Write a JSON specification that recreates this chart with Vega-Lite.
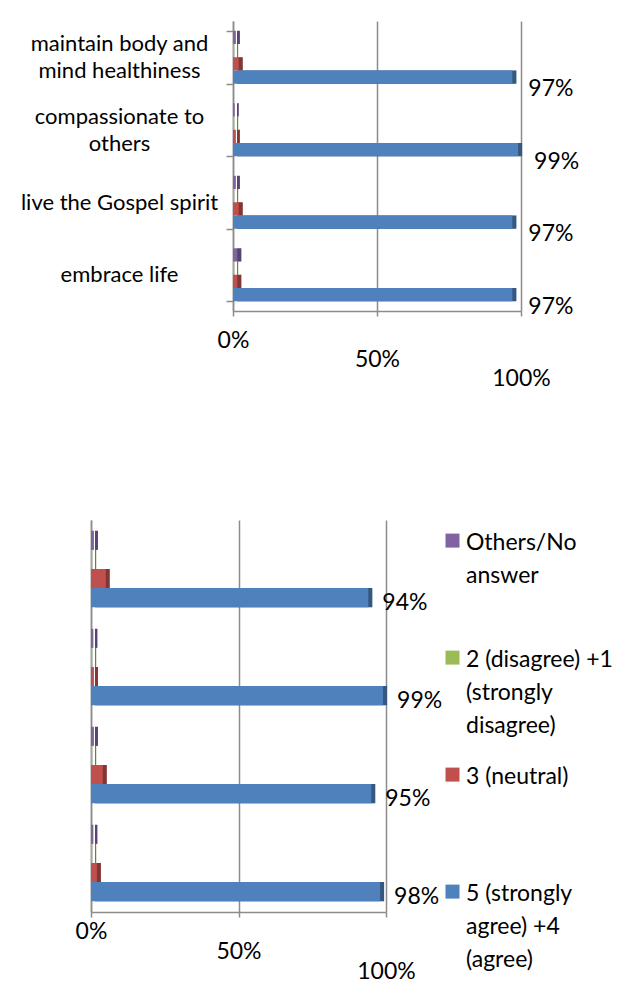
{
  "$schema": "https://vega.github.io/schema/vega-lite/v6.json",
  "padding": {"left": 20, "top": 10, "right": 0, "bottom": 0},
  "datasets": {
    "wave1": [
      {"item": "maintain body and mind healthiness", "series": "Others/No answer", "share": 0.01},
      {"item": "maintain body and mind healthiness", "series": "2 (disagree) +1 (strongly disagree)", "share": 0.004},
      {"item": "maintain body and mind healthiness", "series": "3 (neutral)", "share": 0.02},
      {"item": "maintain body and mind healthiness", "series": "5 (strongly agree) +4 (agree)", "share": 0.97},
      {"item": "compassionate to others", "series": "Others/No answer", "share": 0.006},
      {"item": "compassionate to others", "series": "2 (disagree) +1 (strongly disagree)", "share": 0.004},
      {"item": "compassionate to others", "series": "3 (neutral)", "share": 0.01},
      {"item": "compassionate to others", "series": "5 (strongly agree) +4 (agree)", "share": 0.99},
      {"item": "live the Gospel spirit", "series": "Others/No answer", "share": 0.01},
      {"item": "live the Gospel spirit", "series": "2 (disagree) +1 (strongly disagree)", "share": 0.004},
      {"item": "live the Gospel spirit", "series": "3 (neutral)", "share": 0.02},
      {"item": "live the Gospel spirit", "series": "5 (strongly agree) +4 (agree)", "share": 0.97},
      {"item": "embrace life", "series": "Others/No answer", "share": 0.015},
      {"item": "embrace life", "series": "2 (disagree) +1 (strongly disagree)", "share": 0.004},
      {"item": "embrace life", "series": "3 (neutral)", "share": 0.015},
      {"item": "embrace life", "series": "5 (strongly agree) +4 (agree)", "share": 0.97}
    ],
    "wave2": [
      {"item": "maintain body and mind healthiness", "series": "Others/No answer", "share": 0.01},
      {"item": "maintain body and mind healthiness", "series": "2 (disagree) +1 (strongly disagree)", "share": 0.004},
      {"item": "maintain body and mind healthiness", "series": "3 (neutral)", "share": 0.05},
      {"item": "maintain body and mind healthiness", "series": "5 (strongly agree) +4 (agree)", "share": 0.94},
      {"item": "compassionate to others", "series": "Others/No answer", "share": 0.008},
      {"item": "compassionate to others", "series": "2 (disagree) +1 (strongly disagree)", "share": 0.004},
      {"item": "compassionate to others", "series": "3 (neutral)", "share": 0.01},
      {"item": "compassionate to others", "series": "5 (strongly agree) +4 (agree)", "share": 0.99},
      {"item": "live the Gospel spirit", "series": "Others/No answer", "share": 0.01},
      {"item": "live the Gospel spirit", "series": "2 (disagree) +1 (strongly disagree)", "share": 0.004},
      {"item": "live the Gospel spirit", "series": "3 (neutral)", "share": 0.04},
      {"item": "live the Gospel spirit", "series": "5 (strongly agree) +4 (agree)", "share": 0.95},
      {"item": "embrace life", "series": "Others/No answer", "share": 0.008},
      {"item": "embrace life", "series": "2 (disagree) +1 (strongly disagree)", "share": 0.004},
      {"item": "embrace life", "series": "3 (neutral)", "share": 0.02},
      {"item": "embrace life", "series": "5 (strongly agree) +4 (agree)", "share": 0.98}
    ]
  },
  "spacing": 130,
  "resolve": {
    "scale": {"color": "independent", "yOffset": "independent"},
    "legend": {"color": "independent"}
  },
  "vconcat": [
    {
      "width": 288,
      "height": 290,
      "data": {"name": "wave1"},
      "encoding": {
        "y": {
          "field": "item", "type": "nominal",
          "sort": ["maintain body and mind healthiness", "compassionate to others", "live the Gospel spirit", "embrace life"],
          "scale": {"paddingInner": 0.27, "paddingOuter": 0.135},
          "axis": {
            "title": null,
            "tickBand": "extent",
            "tickSize": 7,
            "labelAlign": "center",
            "labelPadding": 107,
            "labelLimit": 300,
            "labelFontSize": 22,
            "labelLineHeight": 27,
            "labelOffset": {"expr": "datum.value == 'maintain body and mind healthiness' || datum.value == 'compassionate to others' ? -13.5 : 0"},
            "labelExpr": "datum.value == 'maintain body and mind healthiness' ? ['maintain body and', 'mind healthiness'] : datum.value == 'compassionate to others' ? ['compassionate to', 'others'] : datum.label"
          }
        },
        "yOffset": {
          "field": "series", "type": "nominal",
          "sort": ["Others/No answer", "2 (disagree) +1 (strongly disagree)", "3 (neutral)", "5 (strongly agree) +4 (agree)"],
          "scale": {"domain": ["Others/No answer", "2 (disagree) +1 (strongly disagree)", "3 (neutral)", "5 (strongly agree) +4 (agree)"], "paddingInner": 0, "paddingOuter": 0}
        },
        "x": {
          "field": "share", "type": "quantitative",
          "scale": {"domain": [0, 1]},
          "axis": {
            "title": null,
            "values": [0, 0.5, 1],
            "format": ".0%",
            "grid": true,
            "labelFlush": false,
            "labelPadding": 13,
            "labelLineHeight": {"expr": "datum.value * 38"},
            "labelExpr": "datum.value == 0 ? datum.label : ['\u00a0', datum.label]"
          }
        }
      },
      "layer": [
        {
          "mark": {"type": "bar", "xOffset": 4},
          "encoding": {
            "color": {
              "field": "series", "type": "nominal", "legend": null,
              "scale": {"domain": ["Others/No answer", "2 (disagree) +1 (strongly disagree)", "3 (neutral)", "5 (strongly agree) +4 (agree)"], "range": ["#8064a2", "#9bbb59", "#c0504d", "#4f81bd"]}
            }
          }
        },
        {
          "mark": {"type": "bar", "xOffset": 4, "color": "#000000", "opacity": 0.32}
        },
        {
          "mark": {"type": "bar"},
          "encoding": {
            "color": {
              "field": "series", "type": "nominal", "legend": null,
              "scale": {"domain": ["Others/No answer", "2 (disagree) +1 (strongly disagree)", "3 (neutral)", "5 (strongly agree) +4 (agree)"], "range": ["#8064a2", "#9bbb59", "#c0504d", "#4f81bd"]}
            }
          }
        },
        {
          "transform": [{"filter": "datum.series == '5 (strongly agree) +4 (agree)'"}],
          "mark": {"type": "text", "align": "left", "baseline": "middle", "dx": 16, "dy": 12, "fontSize": 23, "font": "Lato", "color": "#000000"},
          "encoding": {"text": {"field": "share", "type": "quantitative", "format": ".0%"}}
        }
      ]
    },
    {
      "width": 153,
      "height": 392,
      "data": {"name": "wave2"},
      "encoding": {
        "y": {
          "field": "item", "type": "nominal",
          "sort": ["maintain body and mind healthiness", "compassionate to others", "live the Gospel spirit", "embrace life"],
          "scale": {"paddingInner": 0.22, "paddingOuter": 0.11},
          "axis": {"title": null, "ticks": false, "labels": false, "offset": 142}
        },
        "yOffset": {
          "field": "series", "type": "nominal",
          "sort": ["Others/No answer", "2 (disagree) +1 (strongly disagree)", "3 (neutral)", "5 (strongly agree) +4 (agree)"],
          "scale": {"domain": ["Others/No answer", "2 (disagree) +1 (strongly disagree)", "3 (neutral)", "5 (strongly agree) +4 (agree)"], "paddingInner": 0, "paddingOuter": 0}
        },
        "x": {
          "field": "share", "type": "quantitative",
          "scale": {"domain": [0, 1], "range": [-142, 153]},
          "axis": {
            "title": null,
            "values": [0, 0.5, 1],
            "format": ".0%",
            "grid": true,
            "labelFlush": false,
            "labelPadding": 3,
            "labelLineHeight": {"expr": "datum.value * 40"},
            "labelExpr": "datum.value == 0 ? datum.label : ['\u00a0', datum.label]"
          }
        }
      },
      "layer": [
        {
          "mark": {"type": "bar", "xOffset": 4},
          "encoding": {
            "color": {
              "field": "series", "type": "nominal",
              "scale": {"domain": ["Others/No answer", "2 (disagree) +1 (strongly disagree)", "3 (neutral)", "5 (strongly agree) +4 (agree)"], "range": ["#8064a2", "#9bbb59", "#c0504d", "#4f81bd"]},
              "legend": {
                "title": null,
                "orient": "right",
                "offset": 55,
                "padding": 0,
                "symbolType": "M-1,0.3H1V2.3H-1Z",
                "symbolSize": 196,
                "symbolStrokeWidth": 0,
                "labelFont": "Lato",
                "labelFontSize": 23,
                "labelColor": "#000000",
                "labelLimit": 300,
                "labelOffset": 2,
                "labelBaseline": "top",
                "rowPadding": 16,
                "gridAlign": "all",
                "labelExpr": "datum.label == 'Others/No answer' ? ['Others/No', 'answer'] : datum.label == '2 (disagree) +1 (strongly disagree)' ? ['2 (disagree) +1', '(strongly', 'disagree)'] : datum.label == '5 (strongly agree) +4 (agree)' ? ['5 (strongly', 'agree) +4', '(agree)'] : datum.label"
              }
            }
          }
        },
        {
          "mark": {"type": "bar", "xOffset": 4, "color": "#000000", "opacity": 0.32}
        },
        {
          "mark": {"type": "bar"},
          "encoding": {
            "color": {
              "field": "series", "type": "nominal",
              "scale": {"domain": ["Others/No answer", "2 (disagree) +1 (strongly disagree)", "3 (neutral)", "5 (strongly agree) +4 (agree)"], "range": ["#8064a2", "#9bbb59", "#c0504d", "#4f81bd"]}
            }
          }
        },
        {
          "transform": [{"filter": "datum.series == '5 (strongly agree) +4 (agree)'"}],
          "mark": {"type": "text", "align": "left", "baseline": "middle", "dx": 14, "dy": 5, "fontSize": 23, "font": "Lato", "color": "#000000"},
          "encoding": {"text": {"field": "share", "type": "quantitative", "format": ".0%"}}
        }
      ]
    }
  ],
  "config": {
    "view": {"stroke": null},
    "font": "Lato",
    "style": {"guide-label": {"lineHeight": 33}},
    "axis": {
      "labelFont": "Lato",
      "labelFontSize": 23,
      "labelColor": "#000000",
      "domainColor": "#8c8c8c",
      "domainWidth": 1.5,
      "tickColor": "#8c8c8c",
      "tickWidth": 1.5,
      "gridColor": "#8c8c8c",
      "gridWidth": 1.5
    }
  }
}
